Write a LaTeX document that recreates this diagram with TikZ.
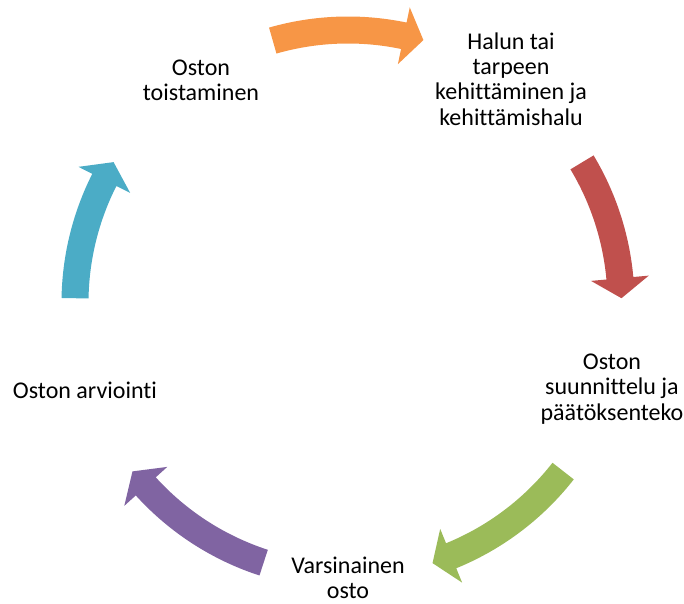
\documentclass[tikz,border=0pt]{standalone}
\usepackage{fontspec}
\setmainfont[Ligatures=NoCommon]{Carlito}
\usetikzlibrary{calc}
\definecolor{aorange}{HTML}{F79646}
\definecolor{ared}{HTML}{C0504D}
\definecolor{agreen}{HTML}{9BBB59}
\definecolor{apurple}{HTML}{8064A2}
\definecolor{ablue}{HTML}{4BACC6}
\begin{document}
\begin{tikzpicture}[x=0.75pt,y=0.75pt,
  lbl/.style={align=center, font=\fontsize{18}{19}\selectfont, inner sep=0pt}]
\useasboundingbox (0,0) rectangle (684,603);
\coordinate (C) at (348,300);
\newcommand\cyclearrow[3]{%
  \pgfmathsetmacro\hb{#3+4.2}%
  \fill[#1] ($(C)+(#2:286.5)$) arc[start angle=#2, end angle=\hb, radius=214.875pt]
    -- ($(C)+(\hb:302)$) -- ($(C)+(#3:273.5)$) -- ($(C)+(\hb:244)$)
    -- ($(C)+(\hb:259.5)$) arc[start angle=\hb, end angle=#2, radius=194.625pt] -- cycle;}
\cyclearrow{aorange}{106}{74}
\cyclearrow{ared}{31}{1}
\cyclearrow{agreen}{-38}{-72}
\cyclearrow{apurple}{-108}{-142}
\cyclearrow{ablue}{179}{149}
\node[lbl] (n1) at (511,524) {Halun tai\\tarpeen\\kehittäminen ja\\kehittämishalu};
\node[lbl] (n2) at (612,214) {Oston\\suunnittelu ja\\päätöksenteko};
\node[lbl] (n3) at (348,25) {Varsinainen\\osto};
\node[lbl] (n4) at (85,213) {Oston arviointi};
\node[lbl] (n5) at (201,523) {Oston\\toistaminen};
\end{tikzpicture}
\end{document}
